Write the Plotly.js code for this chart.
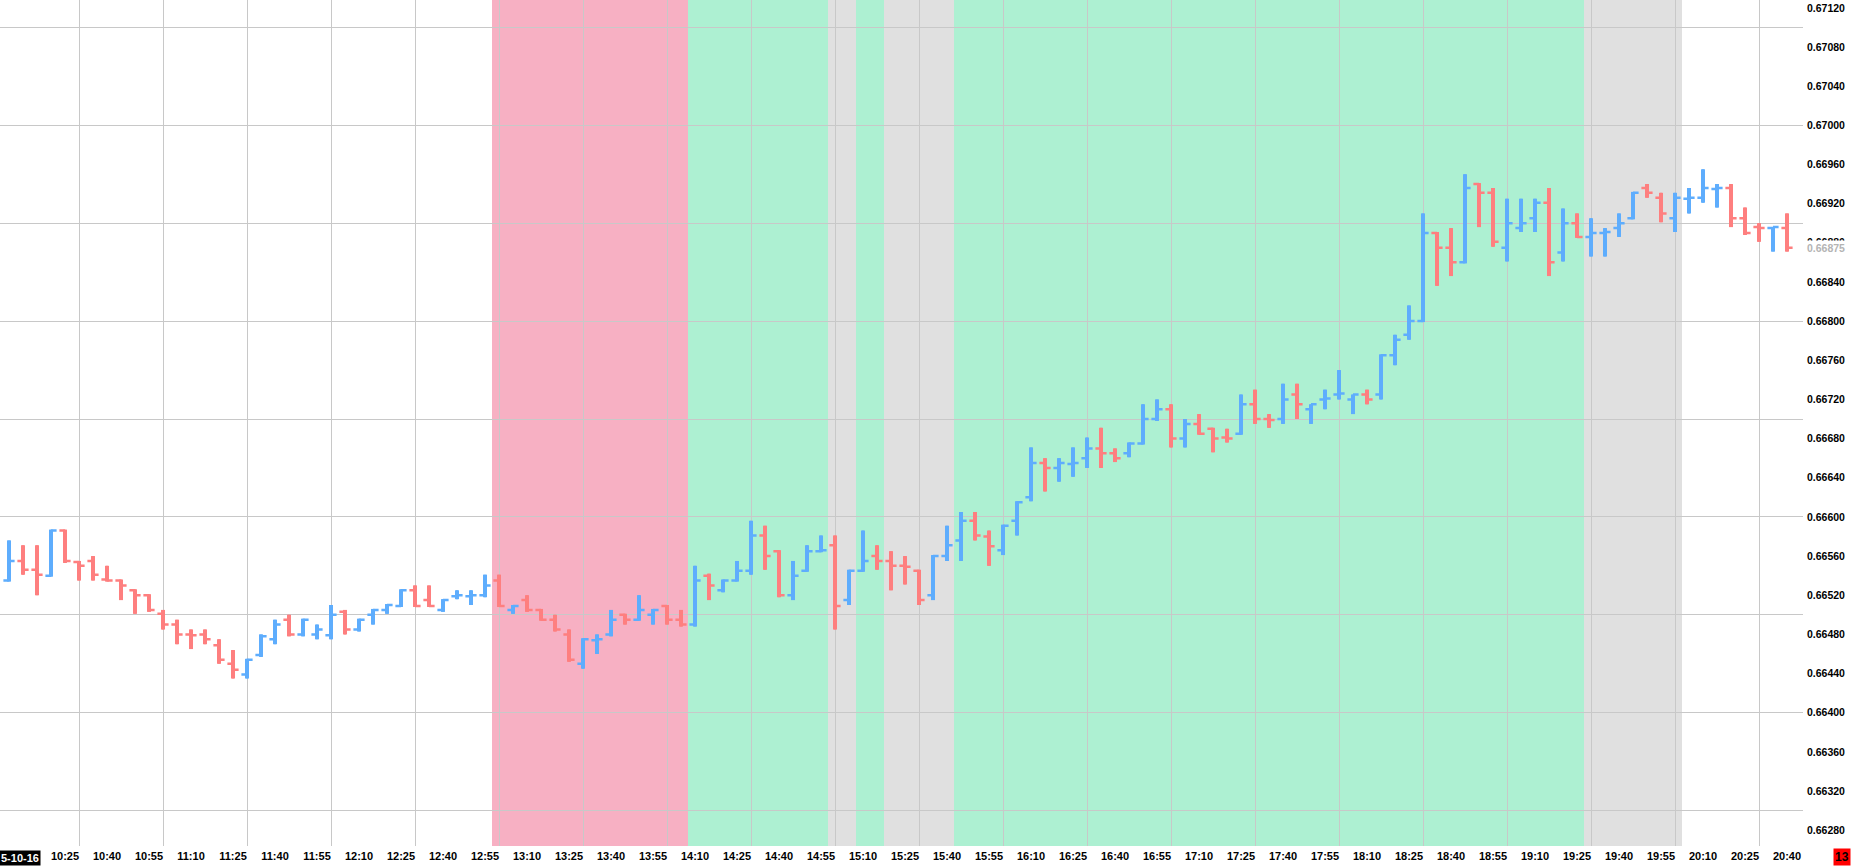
<!DOCTYPE html>
<html><head><meta charset="utf-8">
<script src="https://cdn.plot.ly/plotly-3.0.1.min.js"></script>
<style>html,body{margin:0;padding:0;background:#fff;overflow:hidden}#chart{width:1854px;height:866px}</style>
</head><body><div id="chart"></div><script>
const sessionDate = '2015-10-16';
const dateLabel = '5-10-16';
const lastPriceLabel = '0.66875';
const lastPrice = 0.66875;
const barCountdown = '13';

const barTimes = [
 '10:05','10:10','10:15','10:20','10:25','10:30','10:35','10:40','10:45','10:50','10:55',
 '11:00','11:05','11:10','11:15','11:20','11:25','11:30','11:35','11:40','11:45','11:50','11:55',
 '12:00','12:05','12:10','12:15','12:20','12:25','12:30','12:35','12:40','12:45','12:50','12:55',
 '13:00','13:05','13:10','13:15','13:20','13:25','13:30','13:35','13:40','13:45','13:50','13:55',
 '14:00','14:05','14:10','14:15','14:20','14:25','14:30','14:35','14:40','14:45','14:50','14:55',
 '15:00','15:05','15:10','15:15','15:20','15:25','15:30','15:35','15:40','15:45','15:50','15:55',
 '16:00','16:05','16:10','16:15','16:20','16:25','16:30','16:35','16:40','16:45','16:50','16:55',
 '17:00','17:05','17:10','17:15','17:20','17:25','17:30','17:35','17:40','17:45','17:50','17:55',
 '18:00','18:05','18:10','18:15','18:20','18:25','18:30','18:35','18:40','18:45','18:50','18:55',
 '19:00','19:05','19:10','19:15','19:20','19:25','19:30','19:35','19:40','19:45','19:50','19:55',
 '20:00','20:05','20:10','20:15','20:20','20:25','20:30','20:35','20:40'
];

const openP = [
 0.66535,0.66555,0.66546,0.66540,0.66586,0.66554,0.66555,0.66536,0.66535,0.66525,0.66520,
 0.66501,0.66490,0.66480,0.66480,0.66469,0.66450,0.66439,0.66459,0.66475,0.66495,0.66480,0.66480,
 0.66479,0.66503,0.66485,0.66500,0.66505,0.66509,0.66525,0.66515,0.66505,0.66519,0.66519,0.66520,
 0.66535,0.66505,0.66515,0.66505,0.66495,0.66480,0.66450,0.66474,0.66480,0.66500,0.66495,0.66500,
 0.66509,0.66495,0.66490,0.66540,0.66525,0.66535,0.66545,0.66581,0.66565,0.66520,0.66545,0.66565,
 0.66571,0.66515,0.66545,0.66560,0.66555,0.66550,0.66545,0.66520,0.66560,0.66576,0.66596,0.66580,
 0.66566,0.66596,0.66620,0.66655,0.66650,0.66654,0.66660,0.66670,0.66665,0.66665,0.66675,0.66700,
 0.66710,0.66680,0.66695,0.66690,0.66681,0.66685,0.66715,0.66700,0.66700,0.66725,0.66710,0.66720,
 0.66725,0.66720,0.66725,0.66725,0.66765,0.66786,0.66800,0.66890,0.66875,0.66860,0.66940,0.66931,
 0.66875,0.66895,0.66905,0.66921,0.66870,0.66900,0.66886,0.66890,0.66895,0.66905,0.66936,0.66926,
 0.66905,0.66925,0.66926,0.66935,0.66936,0.66905,0.66896,0.66895,0.66895
];
const highP = [
 0.66576,0.66571,0.66571,0.66587,0.66587,0.66555,0.66560,0.66550,0.66536,0.66526,0.66521,
 0.66505,0.66495,0.66485,0.66485,0.66475,0.66464,0.66455,0.66480,0.66495,0.66500,0.66496,0.66490,
 0.66510,0.66505,0.66496,0.66506,0.66511,0.66526,0.66530,0.66530,0.66516,0.66525,0.66525,0.66541,
 0.66541,0.66510,0.66520,0.66506,0.66500,0.66485,0.66476,0.66480,0.66505,0.66501,0.66520,0.66506,
 0.66510,0.66505,0.66550,0.66542,0.66536,0.66555,0.66596,0.66591,0.66566,0.66555,0.66571,0.66581,
 0.66581,0.66546,0.66586,0.66571,0.66565,0.66560,0.66546,0.66561,0.66591,0.66605,0.66605,0.66586,
 0.66592,0.66616,0.66671,0.66660,0.66660,0.66671,0.66681,0.66691,0.66670,0.66676,0.66715,0.66720,
 0.66715,0.66700,0.66705,0.66691,0.66690,0.66725,0.66730,0.66705,0.66736,0.66736,0.66715,0.66730,
 0.66750,0.66725,0.66730,0.66766,0.66786,0.66816,0.66910,0.66891,0.66895,0.66950,0.66941,0.66936,
 0.66925,0.66925,0.66925,0.66936,0.66915,0.66910,0.66905,0.66895,0.66910,0.66932,0.66940,0.66931,
 0.66931,0.66936,0.66955,0.66940,0.66940,0.66916,0.66900,0.66896,0.66910
];
const lowP = [
 0.66534,0.66541,0.66520,0.66539,0.66553,0.66535,0.66535,0.66534,0.66515,0.66501,0.66503,
 0.66485,0.66470,0.66465,0.66470,0.66450,0.66435,0.66435,0.66457,0.66470,0.66478,0.66478,0.66475,
 0.66475,0.66480,0.66483,0.66490,0.66501,0.66508,0.66508,0.66508,0.66503,0.66516,0.66510,0.66518,
 0.66508,0.66501,0.66503,0.66494,0.66483,0.66452,0.66445,0.66460,0.66478,0.66490,0.66494,0.66490,
 0.66490,0.66488,0.66488,0.66515,0.66523,0.66534,0.66541,0.66546,0.66518,0.66515,0.66544,0.66564,
 0.66485,0.66510,0.66544,0.66546,0.66525,0.66531,0.66510,0.66515,0.66555,0.66555,0.66576,0.66550,
 0.66561,0.66581,0.66616,0.66626,0.66636,0.66641,0.66650,0.66650,0.66656,0.66661,0.66674,0.66698,
 0.66671,0.66671,0.66684,0.66666,0.66676,0.66684,0.66695,0.66691,0.66695,0.66700,0.66695,0.66710,
 0.66720,0.66705,0.66715,0.66720,0.66755,0.66781,0.66799,0.66836,0.66846,0.66859,0.66896,0.66876,
 0.66861,0.66891,0.66891,0.66846,0.66861,0.66885,0.66866,0.66866,0.66886,0.66904,0.66926,0.66901,
 0.66891,0.66910,0.66921,0.66916,0.66896,0.66888,0.66881,0.66871,0.66871
];
const closeP = [
 0.66555,0.66546,0.66541,0.66586,0.66555,0.66550,0.66541,0.66535,0.66530,0.66520,0.66505,
 0.66490,0.66480,0.66479,0.66475,0.66454,0.66444,0.66454,0.66478,0.66490,0.66480,0.66495,0.66485,
 0.66500,0.66485,0.66495,0.66505,0.66510,0.66525,0.66509,0.66509,0.66515,0.66520,0.66520,0.66530,
 0.66509,0.66509,0.66505,0.66495,0.66485,0.66454,0.66475,0.66475,0.66495,0.66495,0.66505,0.66505,
 0.66495,0.66490,0.66535,0.66530,0.66535,0.66545,0.66581,0.66560,0.66520,0.66540,0.66565,0.66566,
 0.66509,0.66545,0.66555,0.66555,0.66550,0.66549,0.66515,0.66560,0.66571,0.66596,0.66581,0.66570,
 0.66591,0.66615,0.66655,0.66650,0.66655,0.66655,0.66670,0.66665,0.66660,0.66675,0.66700,0.66710,
 0.66680,0.66695,0.66685,0.66680,0.66680,0.66715,0.66700,0.66699,0.66720,0.66715,0.66715,0.66721,
 0.66726,0.66725,0.66720,0.66765,0.66781,0.66800,0.66890,0.66875,0.66860,0.66936,0.66931,0.66881,
 0.66900,0.66900,0.66921,0.66860,0.66900,0.66886,0.66890,0.66891,0.66900,0.66931,0.66931,0.66910,
 0.66926,0.66926,0.66936,0.66936,0.66905,0.66890,0.66895,0.66896,0.66875
];

const tickLabels = [
 '10:25','10:40','10:55','11:10','11:25','11:40','11:55','12:10','12:25','12:40','12:55',
 '13:10','13:25','13:40','13:55','14:10','14:25','14:40','14:55','15:10','15:25','15:40','15:55',
 '16:10','16:25','16:40','16:55','17:10','17:25','17:40','17:55','18:10','18:25','18:40','18:55',
 '19:10','19:25','19:40','19:55','20:10','20:25','20:40'
];

// background session shading: first bar and last bar covered
const shadeFirst = ['13:00','14:10','15:00','15:10','15:20','15:45','19:30'];
const shadeLast  = ['14:05','14:55','15:05','15:15','15:40','19:25','20:00'];
const shadeKind  = ['down','up','flat','up','flat','up','flat'];

const kindColor = {down:'#f7b0c3', up:'#adf0d2', flat:'#e0e0e0'};
const UP = '#5eadfd', DOWN = '#fe7f7f';
const FONT = 'Liberation Sans, Arial, Helvetica, sans-serif';

function ts(hm){ return sessionDate + ' ' + hm; }
function shift(hm, sec){
  const p = hm.split(':');
  const base = Date.UTC(2015, 9, 16, +p[0], +p[1], 0) + sec*1000;
  return new Date(base).toISOString().replace('T',' ').slice(0,23);
}

const x = barTimes.map(ts);
const xRange = [shift(barTimes[0], -192.86), shift(barTimes[barTimes.length-1], 342.9)];
const yRange = [0.6626384, 0.671280];

const common = {
  type:'ohlc', x:x, open:openP, high:highP, low:lowP, close:closeP,
  hoverinfo:'skip', showlegend:false
};
const traces = [
  Object.assign({}, common, {
    tickwidth:0.4,
    increasing:{line:{color:UP, width:2.5}},
    decreasing:{line:{color:DOWN, width:2.5}}
  }),
  Object.assign({}, common, {
    tickwidth:0,
    increasing:{line:{color:UP, width:4}},
    decreasing:{line:{color:DOWN, width:4}}
  }),
  {type:'scatter', x:[], y:[], xaxis:'x2', yaxis:'y2', showlegend:false, hoverinfo:'skip'}
];

const shapes = shadeFirst.map((s, i) => ({
  type:'rect', xref:'x', yref:'paper', layer:'below',
  x0: shift(s, -150), x1: shift(shadeLast[i], 150), y0:0, y1:1,
  fillcolor: kindColor[shadeKind[i]], line:{width:0}
}));

const tickFont = {family:FONT, size:11, color:'#000', weight:'bold'};

const layout = {
  width:1854, height:866,
  margin:{l:0, r:51, t:0, b:20, pad:0},
  paper_bgcolor:'#ffffff', plot_bgcolor:'#ffffff',
  showlegend:false,
  xaxis:{
    type:'date', range:xRange, rangeslider:{visible:false},
    tickmode:'array', tickvals:tickLabels.map(ts), ticktext:tickLabels,
    showgrid:false, zeroline:false, showline:false, ticks:'',
    tickfont:tickFont, ticklabelstandoff:2, fixedrange:true
  },
  xaxis2:{
    type:'date', overlaying:'x', anchor:'y', range:xRange,
    tick0: ts('10:00'), dtick:1800000, showgrid:true, gridcolor:'#c8c8c8', gridwidth:1,
    showticklabels:false, ticks:'', zeroline:false, showline:false, fixedrange:true
  },
  yaxis:{
    side:'right', range:yRange, tick0:0, dtick:0.0004, tickformat:'.5f',
    showgrid:false, zeroline:false, showline:false, ticks:'',
    tickfont:{family:FONT, size:10.5, color:'#000', weight:'bold'},
    ticklabelstandoff:3, fixedrange:true
  },
  yaxis2:{
    overlaying:'y', anchor:'x', side:'right', range:yRange, tick0:0, dtick:0.001,
    showgrid:true, gridcolor:'#c8c8c8', gridwidth:1,
    showticklabels:false, ticks:'', zeroline:false, showline:false, fixedrange:true
  },
  shapes:shapes,
  annotations:[
    {xref:'paper', yref:'y', x:1, y:lastPrice, xanchor:'left', yanchor:'middle', xshift:2,
     text:lastPriceLabel, showarrow:false, bgcolor:'#ffffff', borderpad:1,
     font:{family:FONT, size:10.5, color:'#b4b4b4', weight:'bold'}},
    {xref:'paper', yref:'paper', x:1, y:0, xanchor:'center', yanchor:'middle', xshift:39, yshift:-11,
     text:barCountdown, showarrow:false, bgcolor:'#ff0000', borderpad:1,
     font:{family:FONT, size:12, color:'#000', weight:'bold'}},
    {xref:'paper', yref:'paper', x:0, y:0, xanchor:'left', yanchor:'middle', xshift:-1, yshift:-12,
     text:dateLabel, showarrow:false, bgcolor:'#000000', borderpad:1,
     font:{family:FONT, size:11, color:'#ffffff', weight:'bold'}}
  ]
};

Plotly.newPlot('chart', traces, layout, {staticPlot:true, displayModeBar:false});
</script></body></html>
